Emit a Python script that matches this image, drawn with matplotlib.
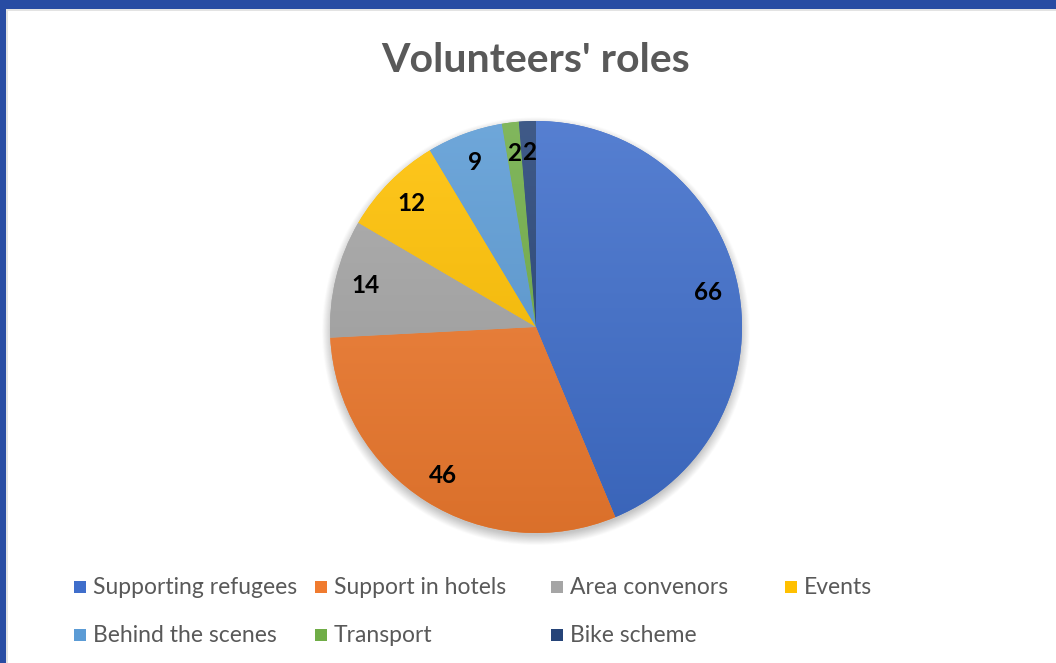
import numpy as np
import matplotlib
matplotlib.use("Agg")
import matplotlib.pyplot as plt
from matplotlib.patches import Rectangle
from matplotlib.colors import to_rgb

roles = ["Supporting refugees", "Support in hotels", "Area convenors", "Events",
         "Behind the scenes", "Transport", "Bike scheme"]
counts = [66, 46, 14, 12, 9, 2, 2]
colors = ["#3F6ECB", "#F07B2F", "#A5A5A5", "#FFC000", "#5B9BD5", "#70AD47", "#264478"]

W, H = 1056, 663
fig = plt.figure(figsize=(W / 100, H / 100), dpi=100)
fig.patch.set_facecolor("white")

# frame: blue band on top and left with a soft grey edge
fig.add_artist(Rectangle((0, 1 - 11 / H), 1, 11 / H, transform=fig.transFigure,
                         color="#E3E3E3", lw=0, zorder=0))
fig.add_artist(Rectangle((0, 0), 8 / W, 1, transform=fig.transFigure,
                         color="#E3E3E3", lw=0, zorder=0))
fig.add_artist(Rectangle((0, 1 - 9 / H), 1, 9 / H, transform=fig.transFigure,
                         color="#284CA3", lw=0, zorder=1))
fig.add_artist(Rectangle((0, 0), 6 / W, 1, transform=fig.transFigure,
                         color="#284CA3", lw=0, zorder=1))

fig.text(536 / W, 1 - 60 / H, "Volunteers' roles", ha="center", va="center",
         fontsize=29.5, fontweight="bold", color="#595959", family="Lato")

# pie axes
R = 206
cx, cy = 536, H - 327
ax = fig.add_axes([(cx - R * 1.1) / W, (cy - R * 1.1) / H, 2.2 * R / W, 2.2 * R / H])
ax.set_aspect("equal")
ax.axis("off")

# soft drop shadow under the pie
n = 400
yy, xx = np.mgrid[1.1:-1.1:n * 1j, -1.1:1.1:n * 1j]
d = np.hypot(xx, yy + 0.02)
alpha = np.clip((1.04 - d) / 0.05, 0, 1) * 0.35
shadow = np.zeros((n, n, 4))
shadow[..., :3] = 0.35
shadow[..., 3] = alpha
ax.imshow(shadow, extent=(-1.1, 1.1, -1.1, 1.1), zorder=0, interpolation="bilinear")

total = sum(counts)
wedges, texts = ax.pie(counts, colors=colors, startangle=90, counterclock=False,
                       radius=1, wedgeprops=dict(linewidth=0, zorder=1))

# vertical light-to-dark shading inside each slice
grad = np.linspace(0, 1, 256)[:, None]
for w, c in zip(wedges, colors):
    base = np.array(to_rgb(c))
    top = base + (1 - base) * 0.12
    bot = base * 0.91
    img = top[None, None, :] * (1 - grad[..., None]) + bot[None, None, :] * grad[..., None]
    img = np.repeat(img, 2, axis=1)
    im = ax.imshow(img, extent=(-1, 1, -1, 1), origin="upper", zorder=2,
                   interpolation="bilinear", aspect="auto")
    im.set_clip_path(w)
ax.set_xlim(-1.1, 1.1)
ax.set_ylim(-1.1, 1.1)

# value labels
angle = 90.0
for w, v in zip(wedges, counts):
    span = v / total * 360
    mid = np.deg2rad(angle - span / 2)
    angle -= span
    ax.text(0.85 * np.cos(mid), 0.85 * np.sin(mid), f"{v}", ha="center", va="center",
            fontsize=17.5, fontweight="bold", color="black", family="Lato", zorder=5)

# legend laid out in fixed columns
col_x = [74, 315, 551, 785]
row_y = [587, 635]
sq = 12
for i, (name, c) in enumerate(zip(roles, colors)):
    r, k = divmod(i, 4)
    x, y = col_x[k], row_y[r]
    fig.add_artist(Rectangle((x / W, (H - y - sq / 2) / H), sq / W, sq / H,
                             transform=fig.transFigure, color=c, lw=0))
    fig.text((x + sq + 7) / W, (H - y) / H, name, ha="left", va="center",
             fontsize=16.5, color="#595959", family="Lato")

fig.savefig("out.png", dpi=100)
